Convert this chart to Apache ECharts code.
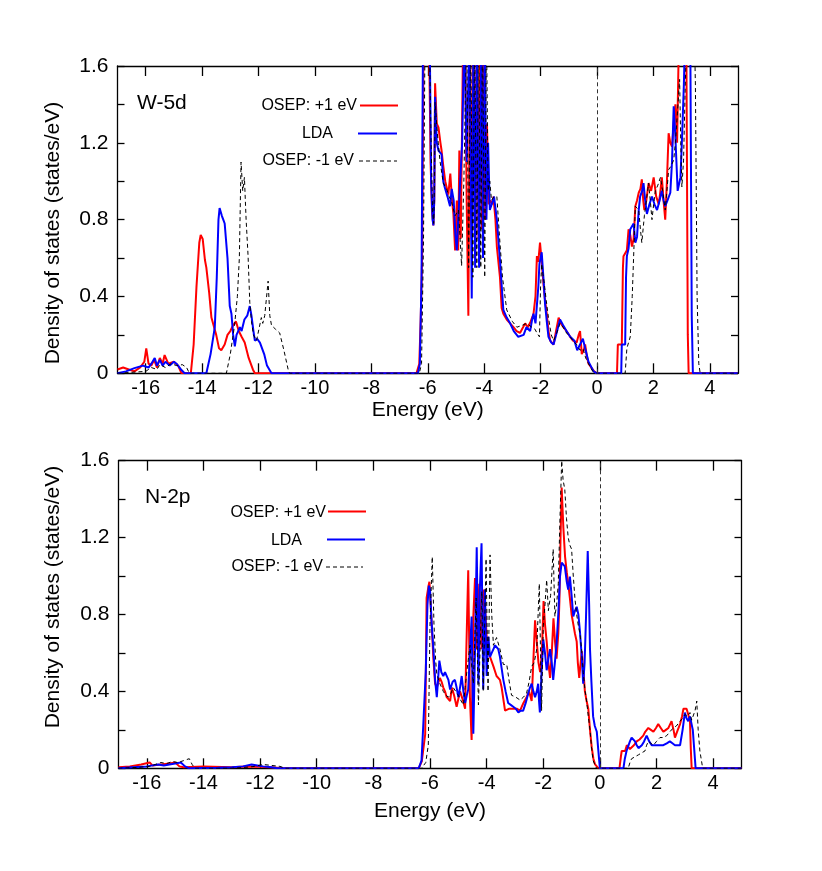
<!DOCTYPE html>
<html>
<head>
<meta charset="utf-8">
<script src="https://cdn.jsdelivr.net/npm/echarts@6/dist/echarts.min.js"></script>
<style>html,body{margin:0;padding:0;background:#fff;}#chart{width:822px;height:871px;}</style>
</head>
<body>
<div id="chart"></div>
<script>
// ---- tick definitions ----
const xTicks = [-16, -14, -12, -10, -8, -6, -4, -2, 0, 2, 4];
const yTicks = [0, 0.2, 0.4, 0.6, 0.8, 1.0, 1.2, 1.4, 1.6];
const yLabels = [0, 0.4, 0.8, 1.2, 1.6];
const seriesNames = ['OSEP: +1 eV', 'LDA', 'OSEP: -1 eV'];
const panelTitles = ['W-5d', 'N-2p'];

// ---- W-5d, OSEP +1 eV ----
const w5dPlus = [[-17,0.02],[-16.8,0.03],[-16.6,0.02],[-16.4,0.01],[-16.2,0.03],[-16.05,0.06],[-15.98,0.13],[-15.9,0.05],[-15.8,0.04],[-15.7,0.07],[-15.6,0.03],[-15.5,0.08],[-15.4,0.05],[-15.33,0.095],[-15.2,0.05],[-15.0,0.06],[-14.85,0.04],[-14.73,0],[-14.4,0],[-14.3,0.15],[-14.2,0.45],[-14.1,0.68],[-14.05,0.72],[-13.98,0.70],[-13.9,0.59],[-13.85,0.55],[-13.75,0.42],[-13.67,0.29],[-13.6,0.28],[-13.5,0.2],[-13.4,0.13],[-13.32,0.12],[-13.2,0.15],[-13.1,0.2],[-13.0,0.22],[-12.9,0.25],[-12.8,0.27],[-12.7,0.22],[-12.6,0.19],[-12.49,0.16],[-12.35,0.08],[-12.2,0.02],[-12.13,0],
[-6.4,0],[-6.3,0.05],[-6.25,0.28],[-6.2,0.6],[-6.15,1.7],[-6.05,1.8],[-5.95,1.7],[-5.9,1.1],[-5.85,0.85],[-5.8,0.77],[-5.77,0.9],[-5.74,1.51],[-5.68,1.3],[-5.62,1.28],[-5.55,1.2],[-5.51,1.16],[-5.45,1.08],[-5.38,1.0],[-5.33,1.01],[-5.27,0.93],[-5.2,1.04],[-5.14,0.9],[-5.09,0.83],[-5.03,0.64],[-4.97,0.9],[-4.92,0.64],[-4.88,1.16],[-4.83,0.7],[-4.75,1.7],[-4.68,1.8],[-4.62,0.9],[-4.56,0.3],[-4.5,1.8],[-4.44,0.7],[-4.38,1.8],[-4.32,0.6],[-4.26,1.8],[-4.2,0.7],[-4.14,1.8],[-4.08,0.75],[-4.02,1.8],[-3.96,0.8],[-3.9,1.3],[-3.84,0.88],[-3.79,0.90],[-3.72,0.88],[-3.67,0.92],[-3.6,0.8],[-3.55,0.66],[-3.44,0.50],[-3.38,0.34],[-3.32,0.31],[-3.2,0.28],[-3.08,0.26],[-2.96,0.24],[-2.85,0.22],[-2.73,0.21],[-2.62,0.24],[-2.55,0.26],[-2.45,0.24],[-2.35,0.27],[-2.25,0.31],[-2.18,0.4],[-2.13,0.61],[-2.08,0.58],[-2.02,0.68],[-1.96,0.58],[-1.9,0.47],[-1.84,0.38],[-1.78,0.31],[-1.72,0.22],[-1.66,0.17],[-1.6,0.16],[-1.54,0.15],[-1.45,0.22],[-1.36,0.29],[-1.28,0.26],[-1.19,0.24],[-1.08,0.22],[-0.95,0.19],[-0.85,0.17],[-0.72,0.16],[-0.65,0.2],[-0.6,0.22],[-0.54,0.10],[-0.47,0.12],[-0.42,0.15],[-0.36,0.09],[-0.3,0.05],[-0.2,0.03],[-0.1,0.01],[0,0],
[0.71,0],[0.74,0.15],[0.88,0.15],[0.92,0.55],[0.94,0.61],[1.06,0.64],[1.12,0.75],[1.18,0.72],[1.24,0.66],[1.3,0.7],[1.36,0.87],[1.42,0.9],[1.48,0.94],[1.54,0.96],[1.59,1.01],[1.64,0.9],[1.68,0.85],[1.75,0.9],[1.83,0.99],[1.92,0.95],[2.01,1.02],[2.1,0.92],[2.19,0.88],[2.25,0.95],[2.30,1.02],[2.36,0.9],[2.42,0.80],[2.48,1.0],[2.54,1.25],[2.6,1.2],[2.66,1.18],[2.72,1.3],[2.78,1.40],[2.84,1.2],[2.9,1.7],[3.0,1.8],[3.1,1.8],[3.17,1.7],[3.22,0.2],[3.25,0],[5,0]];

// ---- W-5d, LDA ----
const w5dLda = [[-17,0],[-16.7,0.01],[-16.4,0.027],[-16.1,0.04],[-15.9,0.03],[-15.8,0.05],[-15.68,0.08],[-15.6,0.04],[-15.5,0.07],[-15.4,0.04],[-15.3,0.06],[-15.15,0.04],[-15.0,0.06],[-14.91,0.05],[-14.75,0.02],[-14.62,0],[-13.85,0],[-13.7,0.1],[-13.55,0.24],[-13.48,0.5],[-13.42,0.8],[-13.38,0.86],[-13.3,0.82],[-13.25,0.80],[-13.2,0.78],[-13.1,0.6],[-13.02,0.35],[-12.96,0.31],[-12.9,0.2],[-12.84,0.14],[-12.78,0.2],[-12.72,0.22],[-12.66,0.24],[-12.6,0.22],[-12.5,0.28],[-12.4,0.3],[-12.31,0.35],[-12.25,0.3],[-12.18,0.22],[-12.13,0.17],[-12.05,0.18],[-11.95,0.16],[-11.9,0.17],[-11.8,0.1],[-11.7,0.04],[-11.54,0],
[-6.35,0],[-6.28,0.05],[-6.22,0.5],[-6.17,1.7],[-6.0,1.8],[-5.92,1.6],[-5.88,1.0],[-5.83,0.8],[-5.80,0.77],[-5.77,0.9],[-5.74,1.44],[-5.68,1.2],[-5.62,1.16],[-5.55,1.15],[-5.51,1.14],[-5.45,1.0],[-5.4,0.97],[-5.3,0.92],[-5.21,0.87],[-5.15,0.96],[-5.08,0.9],[-5.02,0.72],[-4.97,0.64],[-4.92,0.8],[-4.86,0.8],[-4.78,1.2],[-4.7,1.8],[-4.62,1.1],[-4.52,1.8],[-4.44,0.39],[-4.38,1.8],[-4.32,0.55],[-4.26,1.8],[-4.18,0.55],[-4.1,1.8],[-4.04,0.6],[-3.98,1.8],[-3.92,0.8],[-3.86,1.2],[-3.8,0.85],[-3.73,0.88],[-3.65,0.92],[-3.55,0.8],[-3.44,0.59],[-3.32,0.33],[-3.2,0.29],[-3.08,0.26],[-2.95,0.22],[-2.79,0.19],[-2.73,0.19],[-2.6,0.2],[-2.5,0.24],[-2.37,0.22],[-2.3,0.28],[-2.25,0.31],[-2.18,0.26],[-2.13,0.26],[-2.08,0.45],[-2.04,0.57],[-1.96,0.63],[-1.9,0.5],[-1.84,0.36],[-1.78,0.27],[-1.72,0.19],[-1.62,0.16],[-1.54,0.15],[-1.45,0.2],[-1.31,0.28],[-1.2,0.25],[-1.08,0.22],[-0.95,0.19],[-0.8,0.17],[-0.7,0.12],[-0.6,0.15],[-0.5,0.18],[-0.42,0.13],[-0.3,0.06],[-0.12,0.01],[0,0],
[0.86,0],[0.88,0.15],[1.0,0.15],[1.03,0.5],[1.06,0.61],[1.12,0.65],[1.18,0.75],[1.24,0.76],[1.30,0.78],[1.36,0.68],[1.42,0.71],[1.48,0.85],[1.53,0.92],[1.6,0.95],[1.65,0.99],[1.71,0.9],[1.77,0.83],[1.86,0.88],[1.95,0.92],[2.04,0.88],[2.13,0.85],[2.22,0.9],[2.30,0.95],[2.36,0.9],[2.42,0.87],[2.5,0.9],[2.6,0.94],[2.66,1.1],[2.72,1.39],[2.78,1.23],[2.86,0.95],[2.96,1.02],[3.01,1.2],[3.08,1.5],[3.13,1.8],[3.25,1.8],[3.31,1.7],[3.36,0.3],[3.40,0],[5,0]];

// ---- W-5d, OSEP -1 eV ----
const w5dMinus = [[-17,0],[-16.5,0.005],[-16.0,0.01],[-15.8,0.03],[-15.6,0.02],[-15.5,0.045],[-15.3,0.03],[-15.1,0.05],[-14.9,0.04],[-14.7,0.045],[-14.55,0.03],[-14.45,0],[-13.14,0],[-13.0,0.1],[-12.85,0.25],[-12.75,0.4],[-12.68,0.6],[-12.62,1.10],[-12.56,0.95],[-12.5,1.02],[-12.44,0.8],[-12.37,0.61],[-12.31,0.37],[-12.25,0.27],[-12.18,0.2],[-12.07,0.17],[-12.0,0.22],[-11.9,0.29],[-11.85,0.26],[-11.78,0.3],[-11.66,0.48],[-11.6,0.3],[-11.54,0.25],[-11.4,0.23],[-11.25,0.21],[-11.1,0.12],[-10.95,0.02],[-10.9,0],
[-6.3,0],[-6.22,0.05],[-6.15,0.7],[-6.1,1.7],[-5.95,1.8],[-5.88,1.2],[-5.83,0.85],[-5.79,0.78],[-5.76,1.0],[-5.74,1.41],[-5.66,1.25],[-5.57,1.11],[-5.45,0.99],[-5.33,0.96],[-5.24,0.92],[-5.15,0.89],[-5.03,0.82],[-4.91,0.85],[-4.8,0.56],[-4.72,1.0],[-4.62,1.8],[-4.55,0.55],[-4.48,1.8],[-4.4,0.5],[-4.34,1.8],[-4.26,0.55],[-4.2,1.8],[-4.12,0.55],[-4.06,1.8],[-3.98,0.5],[-3.92,1.8],[-3.86,0.95],[-3.8,1.0],[-3.74,0.9],[-3.65,0.92],[-3.55,0.92],[-3.45,0.7],[-3.35,0.5],[-3.2,0.33],[-3.0,0.27],[-2.84,0.24],[-2.65,0.25],[-2.49,0.26],[-2.31,0.24],[-2.2,0.23],[-2.13,0.21],[-2.04,0.19],[-2.0,0.45],[-1.96,0.57],[-1.92,0.52],[-1.87,0.47],[-1.8,0.38],[-1.72,0.29],[-1.62,0.2],[-1.54,0.17],[-1.45,0.2],[-1.31,0.26],[-1.2,0.24],[-1.08,0.21],[-0.95,0.19],[-0.8,0.16],[-0.72,0.15],[-0.6,0.12],[-0.5,0.13],[-0.4,0.08],[-0.3,0.05],[-0.15,0.01],[0,0],
[1.0,0],[1.06,0.13],[1.18,0.19],[1.25,0.4],[1.30,0.61],[1.36,0.87],[1.42,0.86],[1.48,0.85],[1.54,0.75],[1.59,0.68],[1.68,0.82],[1.75,0.9],[1.83,0.99],[1.89,0.9],[1.95,0.80],[2.01,0.88],[2.07,0.95],[2.16,0.98],[2.25,1.02],[2.33,0.95],[2.42,0.85],[2.48,0.95],[2.54,1.06],[2.63,1.08],[2.72,1.11],[2.78,1.2],[2.84,1.33],[2.93,1.53],[2.97,1.2],[3.01,0.97],[3.07,1.11],[3.13,1.5],[3.19,1.8],[3.45,1.8],[3.49,1.5],[3.55,0.4],[3.61,0.05],[3.66,0],[5,0]];

// ---- N-2p, OSEP +1 eV ----
const n2pPlus = [[-17,0.005],[-16.6,0.01],[-16.2,0.02],[-15.9,0.03],[-15.8,0.015],[-15.5,0.02],[-15.2,0.025],[-15.0,0.03],[-14.85,0.01],[-14.7,0.005],[-14.0,0.01],[-13.0,0.005],[-12.5,0.01],[-12.0,0.008],[-11.5,0.004],[-11.2,0],
[-6.4,0],[-6.29,0.036],[-6.17,0.176],[-6.12,0.886],[-6.05,0.95],[-6.02,0.97],[-5.94,0.75],[-5.88,0.57],[-5.82,0.44],[-5.76,0.42],[-5.7,0.42],[-5.65,0.47],[-5.59,0.45],[-5.53,0.42],[-5.47,0.40],[-5.41,0.37],[-5.35,0.38],[-5.29,0.35],[-5.23,0.42],[-5.15,0.38],[-5.06,0.32],[-5.0,0.36],[-4.94,0.40],[-4.85,0.36],[-4.76,0.31],[-4.72,0.6],[-4.65,1.03],[-4.59,0.37],[-4.53,0.147],[-4.47,0.79],[-4.41,0.99],[-4.35,0.62],[-4.26,0.96],[-4.18,0.62],[-4.09,0.93],[-4.0,0.685],[-3.94,0.6],[-3.88,0.58],[-3.76,0.53],[-3.65,0.48],[-3.53,0.46],[-3.47,0.42],[-3.35,0.30],[-3.2,0.31],[-3.06,0.31],[-2.94,0.31],[-2.82,0.30],[-2.7,0.34],[-2.59,0.37],[-2.5,0.4],[-2.41,0.35],[-2.29,0.77],[-2.23,0.76],[-2.17,0.55],[-2.11,0.50],[-2.05,0.6],[-1.99,0.87],[-1.94,0.75],[-1.88,0.66],[-1.82,0.55],[-1.76,0.47],[-1.7,0.6],[-1.64,0.78],[-1.58,0.65],[-1.53,0.57],[-1.47,0.7],[-1.43,0.87],[-1.39,1.2],[-1.35,1.46],[-1.29,1.25],[-1.23,1.1],[-1.17,1.02],[-1.11,0.95],[-1.06,0.885],[-1.0,0.8],[-0.94,0.75],[-0.88,0.7],[-0.82,0.66],[-0.78,0.55],[-0.73,0.47],[-0.68,0.55],[-0.64,0.61],[-0.58,0.5],[-0.53,0.40],[-0.47,0.35],[-0.41,0.31],[-0.35,0.2],[-0.29,0.11],[-0.23,0.05],[-0.17,0.02],[-0.05,0],
[0.69,0],[0.74,0.06],[0.77,0.09],[0.89,0.09],[0.95,0.12],[1.0,0.12],[1.06,0.1],[1.12,0.105],[1.2,0.12],[1.30,0.14],[1.4,0.15],[1.53,0.17],[1.6,0.19],[1.71,0.21],[1.8,0.2],[1.89,0.19],[1.98,0.21],[2.06,0.23],[2.15,0.21],[2.24,0.19],[2.33,0.2],[2.42,0.21],[2.48,0.22],[2.53,0.245],[2.6,0.2],[2.65,0.16],[2.75,0.2],[2.83,0.23],[2.9,0.27],[2.95,0.31],[3.06,0.31],[3.12,0.28],[3.18,0.245],[3.21,0.1],[3.24,0],[5,0]];

// ---- N-2p, LDA ----
const n2pLda = [[-17,0],[-16.5,0.005],[-16.0,0.01],[-15.6,0.02],[-15.4,0.015],[-15.2,0.02],[-15.0,0.025],[-14.8,0.03],[-14.65,0.01],[-14.5,0],[-13.5,0.003],[-13.0,0.005],[-12.6,0.01],[-12.3,0.02],[-12.1,0.015],[-11.9,0.01],[-11.6,0.005],[-11.4,0],
[-6.4,0],[-6.3,0.04],[-6.24,0.217],[-6.15,0.5],[-6.09,0.85],[-6.04,0.95],[-6.0,0.93],[-5.94,0.75],[-5.88,0.62],[-5.82,0.46],[-5.76,0.37],[-5.72,0.45],[-5.67,0.56],[-5.6,0.5],[-5.53,0.48],[-5.47,0.5],[-5.41,0.50],[-5.35,0.46],[-5.29,0.41],[-5.2,0.45],[-5.12,0.46],[-5.06,0.42],[-5.0,0.37],[-4.94,0.42],[-4.88,0.48],[-4.82,0.4],[-4.76,0.34],[-4.7,0.38],[-4.65,0.41],[-4.59,0.6],[-4.53,0.79],[-4.47,0.18],[-4.41,0.62],[-4.35,1.15],[-4.29,0.44],[-4.24,0.93],[-4.18,1.17],[-4.12,0.41],[-4.06,0.93],[-4.0,0.48],[-3.94,0.685],[-3.88,0.58],[-3.82,0.6],[-3.76,0.62],[-3.7,0.64],[-3.65,0.65],[-3.59,0.62],[-3.53,0.58],[-3.47,0.52],[-3.41,0.46],[-3.33,0.4],[-3.24,0.34],[-3.15,0.33],[-3.06,0.32],[-2.97,0.31],[-2.88,0.29],[-2.8,0.3],[-2.71,0.30],[-2.62,0.34],[-2.53,0.39],[-2.47,0.42],[-2.41,0.44],[-2.35,0.4],[-2.29,0.37],[-2.23,0.4],[-2.18,0.44],[-2.15,0.35],[-2.12,0.29],[-2.06,0.5],[-2.0,0.67],[-1.94,0.6],[-1.88,0.51],[-1.82,0.57],[-1.76,0.62],[-1.7,0.55],[-1.65,0.46],[-1.59,0.55],[-1.53,0.65],[-1.47,0.8],[-1.41,0.997],[-1.35,1.07],[-1.29,1.06],[-1.24,1.05],[-1.17,0.97],[-1.12,0.93],[-1.06,0.997],[-1.0,0.9],[-0.94,0.79],[-0.88,0.82],[-0.82,0.84],[-0.76,0.8],[-0.71,0.72],[-0.65,0.6],[-0.59,0.44],[-0.54,0.55],[-0.49,0.79],[-0.43,1.13],[-0.38,0.85],[-0.35,0.62],[-0.3,0.45],[-0.24,0.27],[-0.18,0.22],[-0.11,0.19],[-0.06,0.1],[0,0],
[0.83,0],[0.88,0.05],[0.94,0.09],[1.0,0.1],[1.06,0.14],[1.12,0.16],[1.18,0.17],[1.24,0.14],[1.3,0.12],[1.36,0.105],[1.42,0.11],[1.48,0.12],[1.56,0.14],[1.65,0.17],[1.74,0.14],[1.83,0.12],[1.92,0.12],[2.0,0.12],[2.12,0.12],[2.24,0.12],[2.36,0.13],[2.47,0.14],[2.56,0.13],[2.65,0.12],[2.74,0.12],[2.83,0.12],[2.92,0.2],[3.0,0.29],[3.06,0.26],[3.12,0.245],[3.18,0.27],[3.24,0.28],[3.28,0.2],[3.32,0.12],[3.38,0],[5,0]];

// ---- N-2p, OSEP -1 eV ----
const n2pMinus = [[-17,0],[-16.3,0.005],[-15.9,0.01],[-15.7,0.02],[-15.5,0.03],[-15.3,0.025],[-15.1,0.035],[-14.9,0.03],[-14.7,0.04],[-14.5,0.05],[-14.4,0.02],[-14.3,0],[-13.0,0],[-12.5,0.005],[-12.2,0.01],[-11.9,0.02],[-11.6,0.015],[-11.3,0.01],[-11.1,0],
[-6.3,0],[-6.15,0.03],[-6.06,0.12],[-6.0,0.75],[-5.92,1.10],[-5.86,0.75],[-5.8,0.56],[-5.76,0.49],[-5.65,0.44],[-5.53,0.40],[-5.44,0.38],[-5.35,0.37],[-5.26,0.39],[-5.18,0.42],[-5.09,0.4],[-5.0,0.38],[-4.9,0.35],[-4.82,0.33],[-4.76,0.42],[-4.70,0.50],[-4.59,0.64],[-4.47,0.44],[-4.37,0.885],[-4.29,0.33],[-4.17,0.92],[-4.12,0.40],[-4.02,1.09],[-3.95,0.40],[-3.88,1.11],[-3.82,0.8],[-3.76,0.64],[-3.65,0.68],[-3.53,0.62],[-3.41,0.54],[-3.29,0.54],[-3.2,0.45],[-3.12,0.38],[-2.97,0.37],[-2.82,0.355],[-2.7,0.37],[-2.59,0.39],[-2.5,0.45],[-2.41,0.53],[-2.32,0.55],[-2.23,0.62],[-2.14,0.96],[-2.06,0.30],[-2.0,0.74],[-1.94,0.85],[-1.88,0.98],[-1.82,0.82],[-1.74,0.9],[-1.65,1.14],[-1.59,0.79],[-1.53,0.85],[-1.47,0.96],[-1.41,1.3],[-1.35,1.6],[-1.3,1.5],[-1.24,1.45],[-1.18,1.3],[-1.12,1.2],[-1.06,1.16],[-1.0,1.14],[-0.94,1.0],[-0.88,0.88],[-0.82,0.8],[-0.76,0.74],[-0.7,0.7],[-0.65,0.62],[-0.59,0.5],[-0.53,0.41],[-0.47,0.35],[-0.41,0.27],[-0.35,0.2],[-0.29,0.1],[-0.24,0.04],[-0.12,0],
[1.0,0],[1.06,0.03],[1.12,0.05],[1.24,0.06],[1.36,0.07],[1.47,0.08],[1.59,0.09],[1.65,0.12],[1.71,0.14],[1.8,0.13],[1.89,0.12],[2.0,0.14],[2.12,0.16],[2.24,0.16],[2.36,0.17],[2.47,0.19],[2.59,0.21],[2.7,0.22],[2.83,0.245],[2.92,0.26],[3.0,0.28],[3.09,0.27],[3.18,0.29],[3.24,0.25],[3.3,0.26],[3.36,0.3],[3.42,0.35],[3.47,0.2],[3.53,0.09],[3.63,0],[5,0]];

const fermiLevel = [0];

// ---- chart ----
const FONT = 'Liberation Sans, Arial, Helvetica, sans-serif';
const AX = { color: '#000', width: 1.3 };
const COLORS = ['#ff0000', '#0000ff', '#000000'];

const grids = [
  { left: 117.5, top: 66, width: 620.5, height: 307.3 },
  { left: 118.5, top: 460.7, width: 623, height: 307.6 }
];

function xAx(gi, pos, nameGap) {
  const a = {
    gridIndex: gi, type: 'value', min: -17, max: 5, position: pos,
    axisLine: { onZero: false, lineStyle: AX },
    axisTick: { inside: true, length: 10, customValues: xTicks, lineStyle: AX },
    axisLabel: { show: pos === 'bottom', customValues: xTicks, fontSize: 20, color: '#000', fontFamily: FONT, margin: 5 },
    splitLine: { show: false }
  };
  if (pos === 'bottom') {
    a.name = 'Energy (eV)'; a.nameLocation = 'middle'; a.nameGap = nameGap;
    a.nameTextStyle = { fontSize: 21, color: '#000', fontFamily: FONT };
  }
  return a;
}
function yAx(gi, pos) {
  return {
    gridIndex: gi, type: 'value', min: 0, max: 1.6, position: pos,
    axisLine: { onZero: false, lineStyle: AX },
    axisTick: { inside: true, length: 7, customValues: yTicks, lineStyle: AX },
    axisLabel: { show: pos === 'left', customValues: yLabels, fontSize: 21, color: '#000', fontFamily: FONT, margin: 9,
      formatter: v => (v === 0 ? '0' : v.toFixed(1)) },
    splitLine: { show: false }
  };
}

const panels = [[w5dPlus, w5dLda, w5dMinus], [n2pPlus, n2pLda, n2pMinus]];
const series = [];
panels.forEach((sets, p) => {
  sets.forEach((d, i) => {
    const s = {
      name: seriesNames[i], type: 'line', data: d,
      xAxisIndex: p * 2, yAxisIndex: p * 2,
      showSymbol: false, symbol: 'none', clip: true, z: 2 + i,
      lineStyle: i === 2 ? { color: COLORS[i], width: 1, type: [4, 3] } : { color: COLORS[i], width: 2 },
      emphasis: { disabled: true }, silent: true
    };
    if (i === 2) {
      s.markLine = {
        silent: true, symbol: 'none', label: { show: false },
        lineStyle: { color: '#333', width: 1, type: [4, 3] },
        data: fermiLevel.map(v => ({ xAxis: v }))
      };
    }
    series.push(s);
  });
});

function legendGraphics(cfg) {
  const out = [];
  cfg.forEach((c, i) => {
    out.push({ type: 'text', x: c.tx, y: c.y, style: { text: seriesNames[i], font: '16px ' + FONT, fill: '#000', textAlign: 'right', textVerticalAlign: 'middle' } });
    out.push({ type: 'line', shape: { x1: c.l1, y1: c.ly, x2: c.l2, y2: c.ly },
      style: i === 2 ? { stroke: '#000', lineWidth: 1, lineDash: [4, 3] } : { stroke: COLORS[i], lineWidth: 2 } });
  });
  return out;
}

const graphic = [
  { type: 'text', x: 137, y: 103, style: { text: panelTitles[0], font: '21px ' + FONT, fill: '#000', textVerticalAlign: 'middle' } },
  { type: 'text', x: 145, y: 497, style: { text: panelTitles[1], font: '21px ' + FONT, fill: '#000', textVerticalAlign: 'middle' } },
  { type: 'text', x: 53, y: 233, rotation: Math.PI / 2, style: { text: 'Density of states (states/eV)', font: '21px ' + FONT, fill: '#000', textAlign: 'center', textVerticalAlign: 'middle' } },
  { type: 'text', x: 53, y: 597, rotation: Math.PI / 2, style: { text: 'Density of states (states/eV)', font: '21px ' + FONT, fill: '#000', textAlign: 'center', textVerticalAlign: 'middle' } }
].concat(legendGraphics([
  { tx: 357, y: 105.5, l1: 360, l2: 398, ly: 105.5 },
  { tx: 333, y: 133.5, l1: 358, l2: 397, ly: 133.5 },
  { tx: 354, y: 161, l1: 359, l2: 397, ly: 161 }
])).concat(legendGraphics([
  { tx: 326, y: 512.5, l1: 328, l2: 366, ly: 511.5 },
  { tx: 302, y: 541, l1: 327, l2: 365, ly: 539.5 },
  { tx: 323, y: 567, l1: 326, l2: 363, ly: 567 }
]));

const chart = echarts.init(document.getElementById('chart'), null, { renderer: 'canvas' });
chart.setOption({
  animation: false,
  backgroundColor: '#fff',
  grid: grids,
  xAxis: [xAx(0, 'bottom', 26), xAx(0, 'top'), xAx(1, 'bottom', 32), xAx(1, 'top')],
  yAxis: [yAx(0, 'left'), yAx(0, 'right'), yAx(1, 'left'), yAx(1, 'right')],
  series: series,
  graphic: graphic
});
</script>
</body>
</html>
